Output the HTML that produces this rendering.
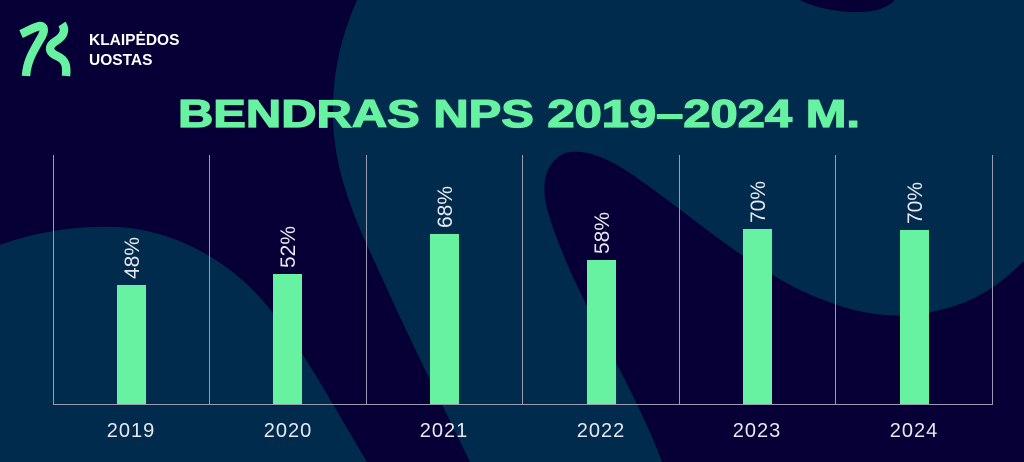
<!DOCTYPE html>
<html><head><meta charset="utf-8"><style>
html,body{margin:0;padding:0;background:#060036;}
svg{display:block}
</style></head><body>
<svg width="1024" height="462" viewBox="0 0 1024 462" xmlns="http://www.w3.org/2000/svg" font-family="Liberation Sans, sans-serif">
<rect width="1024" height="462" fill="#060036"/>
<path fill="#002b4d" d="M0,245 C40,230 90,224 130,228 C190,236 240,270 273,313 C300,345 330,400 367,462 L0,462 Z"/>
<path fill="#002b4d" d="M357,0 L1024,0 L1024,261 C1000,285 975,302 940,310 C900,320 860,318 800,290 C740,260 690,215 640,180 C610,158 585,148 565,153 C545,162 540,185 548,212 C565,270 600,330 625,380 C640,410 652,435 662,462 L470,462 C440,400 410,340 383,280 C360,230 335,180 333,120 C332,70 342,35 357,0 Z"/>
<path fill="#060036" d="M800,0 L895,0 C885,10 870,13 850,12 C830,11 812,6 800,0 Z"/>
<g fill="none" stroke="#66f2a1" stroke-width="8.5" stroke-linecap="butt">
<path d="M21,34 C28,31 34,27 40,26 C44,26 45,30 42,36 C34,50 27,60 26,76"/>
<path d="M62,24 C66,30 64,36 56,41 C48,46 48,52 57,56 C66,60 67,66 66,76"/>
</g>
<text x="89" y="45" fill="#ffffff" font-weight="bold" font-size="15.5">KLAIPĖDOS</text>
<text x="89" y="65" fill="#ffffff" font-weight="bold" font-size="15.5">UOSTAS</text>
<text x="178" y="127" fill="#66f2a1" stroke="#66f2a1" stroke-width="1.3" font-weight="bold" font-size="39" textLength="682" lengthAdjust="spacingAndGlyphs">BENDRAS NPS 2019–2024 M.</text>
<g stroke="#9a9ab0" stroke-width="1">
<line x1="53.5" y1="155" x2="53.5" y2="404"/>
<line x1="209.5" y1="155" x2="209.5" y2="404"/>
<line x1="366.5" y1="155" x2="366.5" y2="404"/>
<line x1="522.5" y1="155" x2="522.5" y2="404"/>
<line x1="679.5" y1="155" x2="679.5" y2="404"/>
<line x1="835.5" y1="155" x2="835.5" y2="404"/>
<line x1="992.5" y1="155" x2="992.5" y2="404"/>
</g>
<g fill="#66f2a1">
<rect x="117" y="285" width="29" height="119"/>
<rect x="273" y="274" width="29" height="130"/>
<rect x="430" y="234" width="29" height="170"/>
<rect x="587" y="260" width="29" height="144"/>
<rect x="743" y="229" width="29" height="175"/>
<rect x="900" y="230" width="29" height="174"/>
</g>
<line x1="53" y1="404.5" x2="993" y2="404.5" stroke="#9a9ab0" stroke-width="1"/>
<g fill="#e8e8f0" font-size="21">
<text transform="translate(139,279) rotate(-90)">48%</text>
<text transform="translate(295,268) rotate(-90)">52%</text>
<text transform="translate(452,228) rotate(-90)">68%</text>
<text transform="translate(609,254) rotate(-90)">58%</text>
<text transform="translate(765,223) rotate(-90)">70%</text>
<text transform="translate(922,224) rotate(-90)">70%</text>
</g>
<g fill="#e8e8f0" font-size="20" text-anchor="middle" letter-spacing="1">
<text x="131" y="437">2019</text>
<text x="288" y="437">2020</text>
<text x="444" y="437">2021</text>
<text x="601" y="437">2022</text>
<text x="757" y="437">2023</text>
<text x="914" y="437">2024</text>
</g>
</svg>
</body></html>
